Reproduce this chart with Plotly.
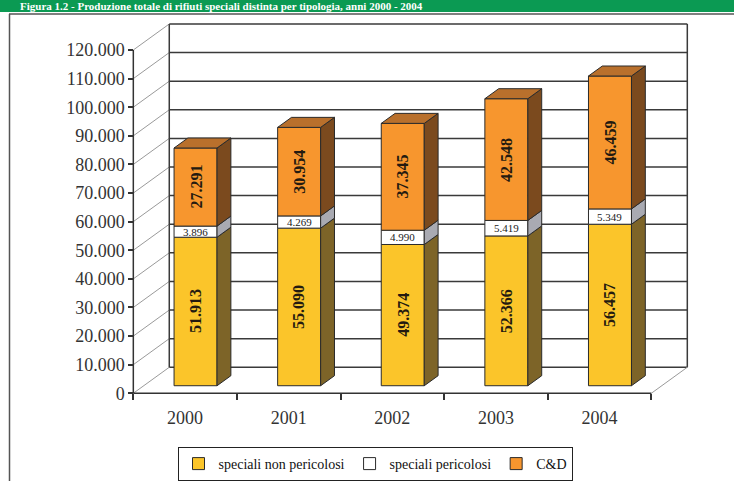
import plotly.graph_objects as go

# ---------------- data ----------------
years = ["2000", "2001", "2002", "2003", "2004"]
non_pericolosi = [51913, 55090, 49374, 52366, 56457]
pericolosi = [3896, 4269, 4990, 5419, 5349]
cd = [27291, 30954, 37345, 42548, 46459]
series_names = ["speciali non pericolosi", "speciali pericolosi", "C&D"]
y_ticks = list(range(0, 120001, 10000))
title_text = "Figura 1.2 - Produzione totale di rifiuti speciali distinta per tipologia, anni 2000 - 2004"

# ---------------- style / geometry ----------------
front_colors = ["#FBC52A", "#FFFFFF", "#F7962E"]
side_colors = ["#7D6428", "#A9AAB2", "#7B4A1E"]
top_color = "#B9702C"
edge = "#2b2b2b"
FONT = "Liberation Serif"

DX, DY = 0.347, 9100      # depth of the 3D box (data units)
F0, FD = 0.29, 0.385      # bar front depth fraction, bar depth fraction
BW = 0.415                # bar width (category units)
YMAX = y_ticks[-1]
XMIN, XMAX = -0.532, 4.873
YMIN, YTOP = -600, 129790
W, H = 734, 481
ML, MR, MT, MB = 130, 44, 22, 86
PW, PH = W - ML - MR, H - MT - MB


def px_x(p):
    return (p - ML) / PW


def px_y(p):
    return (H - MB - p) / PH


def fmt(v):
    return f"{v:,}".replace(",", ".")


series = [non_pericolosi, pericolosi, cd]
n = len(years)
fig = go.Figure()

lower = [0] * n
bar_info = []
for k, vals in enumerate(series):
    xc = [i + F0 * DX for i in range(n)]
    base = [F0 * DY + lower[i] for i in range(n)]
    fig.add_trace(go.Bar(
        x=xc, y=vals, base=base, width=BW, name=series_names[k],
        marker=dict(color=front_colors[k], line=dict(color=edge, width=1)),
        hoverinfo="skip",
    ))
    bar_info.append((xc, base, vals))
    lower = [lower[i] + vals[i] for i in range(n)]

# side faces
for k, (xc, base, vals) in enumerate(bar_info):
    sx, sy = [], []
    for i in range(n):
        xr = xc[i] + BW / 2
        b = base[i]
        t = b + vals[i]
        sx += [xr, xr + FD * DX, xr + FD * DX, xr, xr, None]
        sy += [b, b + FD * DY, t + FD * DY, t, b, None]
    fig.add_trace(go.Scatter(x=sx, y=sy, mode="lines", fill="toself",
                             fillcolor=side_colors[k], line=dict(color=edge, width=1),
                             showlegend=False, hoverinfo="skip"))

# top faces
xc, base, vals = bar_info[-1]
tx, ty = [], []
for i in range(n):
    xl, xr = xc[i] - BW / 2, xc[i] + BW / 2
    T = base[i] + vals[i]
    tx += [xl, xr, xr + FD * DX, xl + FD * DX, xl, None]
    ty += [T, T, T + FD * DY, T + FD * DY, T, None]
fig.add_trace(go.Scatter(x=tx, y=ty, mode="lines", fill="toself", fillcolor=top_color,
                         line=dict(color=edge, width=1), showlegend=False, hoverinfo="skip"))

# value labels
annotations = []
for k, (xc, base, vals) in enumerate(bar_info):
    for i in range(n):
        ymid = base[i] + vals[i] / 2
        if k == 1:
            annotations.append(dict(x=xc[i], y=ymid, text=fmt(vals[i]), showarrow=False,
                                    font=dict(family=FONT, size=11, color="#222"),
                                    xref="x", yref="y"))
        else:
            annotations.append(dict(x=xc[i], y=ymid, text="<b>" + fmt(vals[i]) + "</b>",
                                    showarrow=False, textangle=-90,
                                    font=dict(family=FONT, size=16, color="#241a10"),
                                    xref="x", yref="y"))

# title in the green band
annotations.append(dict(x=px_x(18), y=px_y(6), xref="paper", yref="paper", xanchor="left",
                        yanchor="middle", showarrow=False,
                        text="<b>" + title_text + "</b>",
                        font=dict(family=FONT, size=11, color="white")))

# walls and gridlines
shapes = []
x_left, x_right = -0.5, n - 0.5
for yv in y_ticks:
    shapes.append(dict(type="line", xref="x", yref="y", x0=x_left + DX, x1=x_right + DX,
                       y0=yv + DY, y1=yv + DY, line=dict(color="#3a3a3a", width=1.5),
                       layer="below"))
    shapes.append(dict(type="line", xref="x", yref="y", x0=x_left, x1=x_left + DX,
                       y0=yv, y1=yv + DY, line=dict(color="#9a9a9a", width=1),
                       layer="below"))
for xv in (x_left + DX, x_right + DX):
    shapes.append(dict(type="line", xref="x", yref="y", x0=xv, x1=xv, y0=DY, y1=YMAX + DY,
                       line=dict(color="#3a3a3a", width=1.5), layer="below"))
shapes.append(dict(type="line", xref="x", yref="y", x0=x_right, x1=x_right + DX, y0=0, y1=DY,
                   line=dict(color="#9a9a9a", width=1), layer="below"))
shapes.append(dict(type="line", xref="x", yref="y", x0=x_left, x1=x_right, y0=0, y1=0,
                   line=dict(color="#333", width=1.5), layer="below"))
shapes.append(dict(type="line", xref="x", yref="y", x0=x_left, x1=x_left, y0=0, y1=YMAX,
                   line=dict(color="#333", width=1.5), layer="below"))

# page decoration: green title band and frame
shapes.append(dict(type="rect", xref="paper", yref="paper", x0=px_x(0), x1=px_x(W),
                   y0=px_y(12), y1=px_y(-2), fillcolor="#0B9A53", line=dict(width=0),
                   layer="below"))
shapes.append(dict(type="line", xref="paper", yref="paper", x0=px_x(9), x1=px_x(W),
                   y0=px_y(14), y1=px_y(14), line=dict(color="#555", width=1.5)))
shapes.append(dict(type="line", xref="paper", yref="paper", x0=px_x(9.5), x1=px_x(9.5),
                   y0=px_y(14), y1=px_y(H + 10), line=dict(color="#555", width=1.5)))

fig.update_layout(
    width=W, height=H,
    margin=dict(l=ML, r=MR, t=MT, b=MB, pad=0, autoexpand=False),
    paper_bgcolor="white", plot_bgcolor="rgba(0,0,0,0)",
    barmode="overlay", separators=",.",
    font=dict(family=FONT, color="#333"),
    showlegend=True,
    legend=dict(orientation="h", x=px_x(375), xanchor="center", y=px_y(447), yanchor="top",
                bordercolor="#222", borderwidth=1, bgcolor="white",
                font=dict(family=FONT, size=14, color="#111"),
                itemclick=False, itemdoubleclick=False),
    shapes=shapes, annotations=annotations,
    xaxis=dict(range=[XMIN, XMAX], anchor="free", automargin=False,
               position=(0 - YMIN) / (YTOP - YMIN),
               tickmode="array", tickvals=list(range(n)), ticktext=years, ticks="",
               ticklabelstandoff=12,
               tickfont=dict(family=FONT, size=18, color="#333"),
               showgrid=False, zeroline=False, showline=False,
               minor=dict(tickmode="array", tickvals=[i - 0.5 for i in range(n + 1)],
                          ticks="outside", ticklen=6, tickcolor="#333", tickwidth=1.5,
                          showgrid=False)),
    yaxis=dict(range=[YMIN, YTOP], anchor="free", automargin=False,
               position=(x_left - XMIN) / (XMAX - XMIN),
               tickmode="array", tickvals=y_ticks, tickformat=",d",
               ticks="outside", ticklen=5, tickcolor="#333", tickwidth=1.5,
               tickfont=dict(family=FONT, size=18, color="#333"),
               showgrid=False, zeroline=False, showline=False),
)

fig.write_html("out.html")
